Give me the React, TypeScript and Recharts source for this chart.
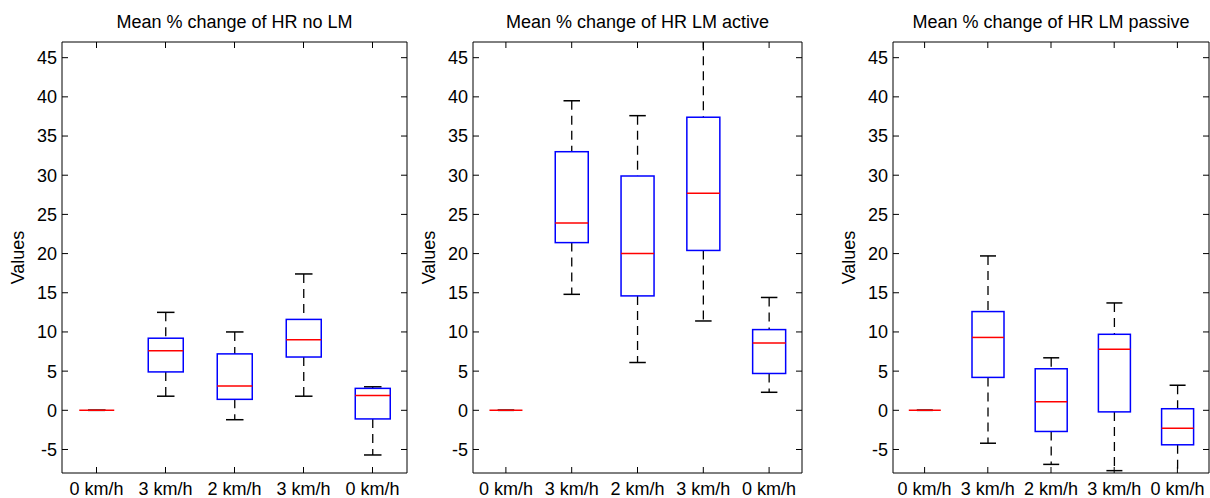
import { ComposedChart, Bar, XAxis, YAxis } from 'recharts';

const categories = ['0 km/h', '3 km/h', '2 km/h', '3 km/h', '0 km/h'];
const yTicks = [-5, 0, 5, 10, 15, 20, 25, 30, 35, 40, 45];
const yDomain: [number, number] = [-8, 47];

// no LM
const noLmMin = [0, 1.8, -1.2, 1.8, -5.7];
const noLmQ1 = [0, 4.9, 1.4, 6.8, -1.1];
const noLmMedian = [0, 7.6, 3.1, 9.0, 1.9];
const noLmQ3 = [0, 9.2, 7.2, 11.6, 2.8];
const noLmMax = [0, 12.5, 10.0, 17.4, 3.0];

// LM active
const activeMin = [0, 14.8, 6.1, 11.4, 2.3];
const activeQ1 = [0, 21.4, 14.6, 20.4, 4.7];
const activeMedian = [0, 23.9, 20.0, 27.7, 8.6];
const activeQ3 = [0, 33.0, 29.9, 37.4, 10.3];
const activeMax = [0, 39.5, 37.6, 49.0, 14.4];

// LM passive
const passiveMin = [0, -4.2, -6.9, -7.7, -9.0];
const passiveQ1 = [0, 4.2, -2.7, -0.2, -4.4];
const passiveMedian = [0, 9.3, 1.1, 7.8, -2.3];
const passiveQ3 = [0, 12.6, 5.3, 9.7, 0.2];
const passiveMax = [0, 19.7, 6.7, 13.7, 3.2];

const FONT = '"Liberation Sans", Arial, sans-serif';
const FS = 18;

function buildRows(min: number[], q1: number[], med: number[], q3: number[], max: number[]) {
  return categories.map((name, i) => ({
    name,
    min: min[i],
    q1: q1[i],
    median: med[i],
    q3: q3[i],
    max: max[i],
  }));
}

// right = gap between the plot's right edge and the chart's right edge
const panels = [
  {
    title: 'Mean % change of HR no LM',
    rows: buildRows(noLmMin, noLmQ1, noLmMedian, noLmQ3, noLmMax),
    left: 0, width: 410, axisWidth: 62, right: 3,
  },
  {
    title: 'Mean % change of HR LM active',
    rows: buildRows(activeMin, activeQ1, activeMedian, activeQ3, activeMax),
    left: 410, width: 395, axisWidth: 63, right: 3,
  },
  {
    title: 'Mean % change of HR LM passive',
    rows: buildRows(passiveMin, passiveQ1, passiveMedian, passiveQ3, passiveMax),
    left: 830, width: 380, axisWidth: 63, right: 1,
  },
];

// bar spans [min, max]; quartiles and median are mapped inside that range
function BoxShape(props: any) {
  const { x, y, width, height, payload } = props;
  if (x == null || y == null || !payload) return null;
  const top = Math.min(y, y + height);
  const bottom = Math.max(y, y + height);
  const lo = payload.min;
  const hi = payload.max;
  const py = (v: number) => (hi === lo ? top : bottom - ((v - lo) / (hi - lo)) * (bottom - top));
  const cx = x + width / 2;
  const cap = width / 4;
  const yMin = py(lo);
  const yQ1 = py(payload.q1);
  const yMed = py(payload.median);
  const yQ3 = py(payload.q3);
  const yMax = py(hi);
  return (
    <g>
      <line x1={cx} x2={cx} y1={yMax} y2={yQ3} stroke="#000" strokeWidth={1.3} strokeDasharray="9 6" />
      <line x1={cx} x2={cx} y1={yQ1} y2={yMin} stroke="#000" strokeWidth={1.3} strokeDasharray="9 6" />
      <line x1={cx - cap} x2={cx + cap} y1={yMax} y2={yMax} stroke="#000" strokeWidth={1.5} />
      <line x1={cx - cap} x2={cx + cap} y1={yMin} y2={yMin} stroke="#000" strokeWidth={1.5} />
      <rect x={x} y={yQ3} width={width} height={Math.max(0, yQ1 - yQ3)} fill="none" stroke="#0000ff" strokeWidth={1.5} />
      <line x1={x} x2={x + width} y1={yMed} y2={yMed} stroke="#ff0000" strokeWidth={1.5} />
    </g>
  );
}

function ValuesLabel(props: any) {
  const vb = props.viewBox || {};
  const cx = vb.x + vb.width - 44;
  const cy = vb.y + vb.height / 2;
  return (
    <text
      x={cx}
      y={cy}
      textAnchor="middle"
      dominantBaseline="central"
      transform={`rotate(-90, ${cx}, ${cy})`}
      fontSize={FS}
      fontFamily={FONT}
      fill="#000"
    >
      Values
    </text>
  );
}

function Panel({ p }: { p: (typeof panels)[number] }) {
  const tickStyle = { fontSize: FS, fontFamily: FONT, fill: '#000' };
  return (
    <div style={{ position: 'absolute', left: p.left, top: 0, width: p.width, height: 498 }}>
      <div
        style={{
          position: 'absolute',
          left: p.axisWidth,
          width: p.width - p.axisWidth - p.right,
          top: 12,
          textAlign: 'center',
          fontFamily: FONT,
          fontSize: FS,
          lineHeight: '21px',
          color: '#000',
        }}
      >
        {p.title}
      </div>
      <ComposedChart
        width={p.width}
        height={498}
        data={p.rows}
        margin={{ top: 41, right: p.right - 1, bottom: 0, left: 0 }}
        barCategoryGap="25%"
      >
        <XAxis
          dataKey="name"
          height={25}
          interval={0}
          tickSize={-6}
          tickMargin={15}
          tick={tickStyle}
          axisLine={{ stroke: '#000' }}
          tickLine={{ stroke: '#000' }}
        />
        <XAxis
          xAxisId="top"
          dataKey="name"
          orientation="top"
          height={1}
          interval={0}
          tickSize={-6}
          tickFormatter={() => ''}
          axisLine={{ stroke: '#000' }}
          tickLine={{ stroke: '#000' }}
        />
        <YAxis
          width={p.axisWidth}
          domain={yDomain}
          ticks={yTicks}
          interval={0}
          allowDataOverflow
          tickSize={-6}
          tickMargin={11}
          tick={tickStyle}
          axisLine={{ stroke: '#000' }}
          tickLine={{ stroke: '#000' }}
          label={(lp: any) => <ValuesLabel {...lp} />}
        />
        <YAxis
          yAxisId="r"
          orientation="right"
          width={1}
          domain={yDomain}
          ticks={yTicks}
          interval={0}
          allowDataOverflow
          tickSize={-6}
          tickFormatter={() => ''}
          axisLine={{ stroke: '#000' }}
          tickLine={{ stroke: '#000' }}
        />
        <Bar
          dataKey={(d: any) => [d.min, d.max]}
          shape={(sp: any) => <BoxShape {...sp} />}
          isAnimationActive={false}
        />
      </ComposedChart>
    </div>
  );
}

export default function App() {
  return (
    <div style={{ position: 'absolute', left: 0, top: 0, width: 1210, height: 498, background: '#fff', overflow: 'hidden' }}>
      {panels.map((p) => (
        <Panel key={p.title} p={p} />
      ))}
    </div>
  );
}
